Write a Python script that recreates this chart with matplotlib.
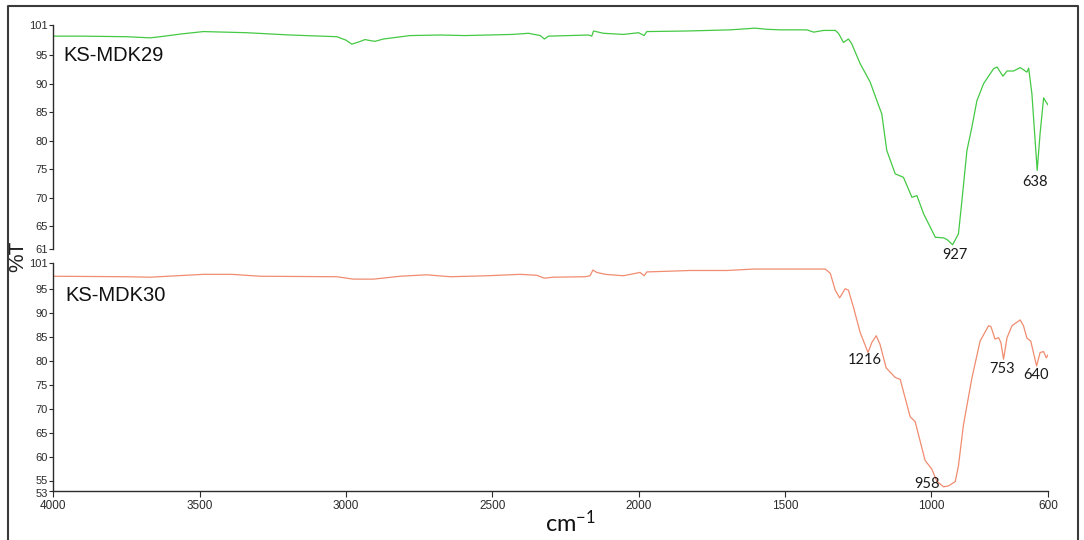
import matplotlib

matplotlib.use("Agg")
import matplotlib.pyplot as plt
from matplotlib.lines import Line2D
from matplotlib.transforms import ScaledTranslation

# FTIR transmittance traces, wavenumber in cm-1 (descending)
wn_mdk29 = [4000, 3900, 3750, 3669, 3635, 3560, 3487, 3339, 3191, 3031,
            3000, 2980, 2955, 2935, 2915, 2900, 2872, 2781, 2678, 2593,
            2433, 2376, 2336, 2322, 2308, 2171, 2160, 2154, 2120, 2052,
            2000, 1981, 1972, 1835, 1687, 1602, 1562, 1516, 1425, 1402,
            1368, 1328, 1317, 1300, 1283, 1272, 1243, 1209, 1180, 1169,
            1152, 1123, 1095, 1066, 1049, 1026, 986, 958, 946, 927,
            907, 895, 878, 861, 844, 821, 787, 775, 764, 755,
            741, 719, 696, 673, 667, 656, 638, 628, 616, 608, 600]
t_mdk29 = [98.3, 98.3, 98.2, 98.0, 98.2, 98.7, 99.1, 98.9, 98.5, 98.2,
           97.6, 96.9, 97.3, 97.7, 97.5, 97.4, 97.8, 98.4, 98.5, 98.4,
           98.6, 98.8, 98.4, 97.8, 98.3, 98.5, 98.3, 99.2, 98.8, 98.6,
           98.9, 98.4, 99.1, 99.2, 99.4, 99.7, 99.5, 99.4, 99.4, 99.0,
           99.3, 99.3, 98.8, 97.2, 97.8, 97.0, 93.5, 90.3, 86.2, 84.7,
           78.3, 74.2, 73.6, 70.1, 70.4, 67.2, 63.1, 63.0, 62.7, 61.8,
           63.7, 69.6, 78.3, 82.4, 87.0, 90.0, 92.6, 92.9, 92.0, 91.3,
           92.2, 92.2, 92.8, 92.0, 92.7, 88.2, 74.8, 81.3, 87.5, 86.8, 86.2]

wn_mdk30 = [4000, 3749, 3669, 3487, 3390, 3293, 3031, 2975, 2906, 2815,
            2724, 2644, 2519, 2405, 2348, 2322, 2291, 2183, 2166, 2156,
            2143, 2114, 2052, 1995, 1981, 1972, 1824, 1698, 1607, 1448,
            1362, 1345, 1328, 1313, 1294, 1283, 1266, 1243, 1216, 1203,
            1188, 1175, 1154, 1123, 1106, 1072, 1055, 1021, 998, 981,
            958, 941, 918, 907, 890, 861, 833, 804, 796, 782,
            770, 762, 753, 741, 724, 696, 685, 673, 660, 640,
            628, 616, 607, 600]
t_mdk30 = [97.7, 97.6, 97.5, 98.1, 98.1, 97.7, 97.6, 97.1, 97.1, 97.7,
           98.0, 97.6, 97.8, 98.1, 97.9, 97.3, 97.5, 97.6, 97.8, 99.0,
           98.5, 98.1, 97.8, 98.5, 97.8, 98.6, 98.9, 98.9, 99.2, 99.2,
           99.2, 98.3, 94.8, 93.2, 95.1, 94.8, 91.3, 86.0, 81.8, 83.9,
           85.3, 83.5, 78.6, 76.6, 76.2, 68.4, 67.4, 59.3, 57.5, 55.0,
           53.8, 54.0, 54.9, 58.2, 66.7, 76.5, 84.2, 87.4, 87.2, 84.6,
           84.9, 83.9, 80.4, 84.9, 87.4, 88.6, 87.4, 84.8, 84.2, 79.0,
           81.8, 82.0, 80.7, 81.4]

# peak annotations: (label, x, y)
peaks_mdk29 = [("927", 918, 60.0), ("638", 644, 72.8)]
peaks_mdk30 = [("1216", 1226, 80.2), ("958", 1015, 54.4),
               ("753", 758, 78.4), ("640", 641, 77.2)]

x_ticks = [4000, 3500, 3000, 2500, 2000, 1500, 1000, 600]
y_ticks_top = [61, 65, 70, 75, 80, 85, 90, 95]
y_ticks_bot = [53, 55, 60, 65, 70, 75, 80, 85, 90, 95]

TICK_FONT = ["Liberation Sans Narrow", "Liberation Sans", "DejaVu Sans"]
TICK_COLOR = "#2b2b2b"

fig = plt.figure(figsize=(10.84, 5.40), dpi=100)
W, H = 1084, 540


def px_axes(left, top, right, bottom):
    return fig.add_axes([left / W, 1 - bottom / H, (right - left) / W, (bottom - top) / H])


ax_top = px_axes(53.3, 25, 1048.3, 249.3)
ax_bot = px_axes(53.3, 263.3, 1048.3, 490.7)


def style_axis(ax, ymin, ymax, yticks, show_x):
    ax.set_xlim(4000, 600)
    ax.set_ylim(ymin, ymax)
    for side in ("top", "right"):
        ax.spines[side].set_visible(False)
    ax.spines["left"].set_color(TICK_COLOR)
    ax.spines["left"].set_linewidth(1.0)
    ticks = yticks + [ymax]
    ax.set_yticks(ticks)
    ax.set_yticklabels([str(t) for t in yticks] + ["101"])
    ax.tick_params(axis="y", direction="out", length=3, width=0.8,
                   color=TICK_COLOR, labelcolor=TICK_COLOR, pad=1, labelsize=8)
    for lbl in ax.get_yticklabels():
        lbl.set_family(TICK_FONT)
    if show_x:
        ax.spines["bottom"].set_color(TICK_COLOR)
        ax.spines["bottom"].set_linewidth(1.0)
        ax.set_xticks(x_ticks)
        ax.set_xticklabels([str(t) for t in x_ticks])
        ax.tick_params(axis="x", direction="out", length=4, width=0.8,
                       color=TICK_COLOR, labelcolor=TICK_COLOR, pad=3, labelsize=8.5)
        for lbl in ax.get_xticklabels():
            lbl.set_family(TICK_FONT)
    else:
        ax.spines["bottom"].set_visible(False)
        ax.set_xticks([])
    ax.patch.set_alpha(0)


style_axis(ax_top, 61, 100.25, y_ticks_top, show_x=False)
style_axis(ax_bot, 53, 100.4, y_ticks_bot, show_x=True)

# the two lowest labels of the lower panel sit close together; nudge them apart
bot_labels = ax_bot.get_yticklabels()
bot_labels[0].set_transform(bot_labels[0].get_transform()
                            + ScaledTranslation(0, -2 / 100, fig.dpi_scale_trans))
bot_labels[1].set_transform(bot_labels[1].get_transform()
                            + ScaledTranslation(0, 1.5 / 100, fig.dpi_scale_trans))

ax_top.plot(wn_mdk29, t_mdk29, color="#44c944", linewidth=0.9)
ax_bot.plot(wn_mdk30, t_mdk30, color="#f08c70", linewidth=0.9)

ax_top.text(3967, 95, "KS-MDK29", fontsize=14.5, family="Liberation Sans",
            va="center", ha="left", color="#111111")
ax_bot.text(3960, 93.7, "KS-MDK30", fontsize=14.5, family="Liberation Sans",
            va="center", ha="left", color="#111111")

for ax, peaks in ((ax_top, peaks_mdk29), (ax_bot, peaks_mdk30)):
    for label, x, y in peaks:
        ax.text(x, y, label, fontsize=10.5, family="Lato", ha="center",
                va="center", color="#1a1a1a", clip_on=False)

fig.text(18 / W, 1 - 256 / H, "%T", rotation=90, fontsize=15,
         family="Liberation Sans", ha="center", va="center", color="#222222")
fig.text(570 / W, 1 - 523 / H, r"cm$\mathregular{^{-1}}$", fontsize=17,
         family="Lato", ha="center", va="center", color="#111111")

# outer frame (left, top, right edges)
frame_x = [7.5 / W, 7.5 / W, 1077.7 / W, 1077.7 / W]
frame_y = [0.0, 1 - 6 / H, 1 - 6 / H, 0.0]
fig.add_artist(Line2D(frame_x, frame_y, transform=fig.transFigure,
                      color="#3a3a3a", linewidth=1.5))

fig.savefig("out.png", dpi=100)
plt.close(fig)
